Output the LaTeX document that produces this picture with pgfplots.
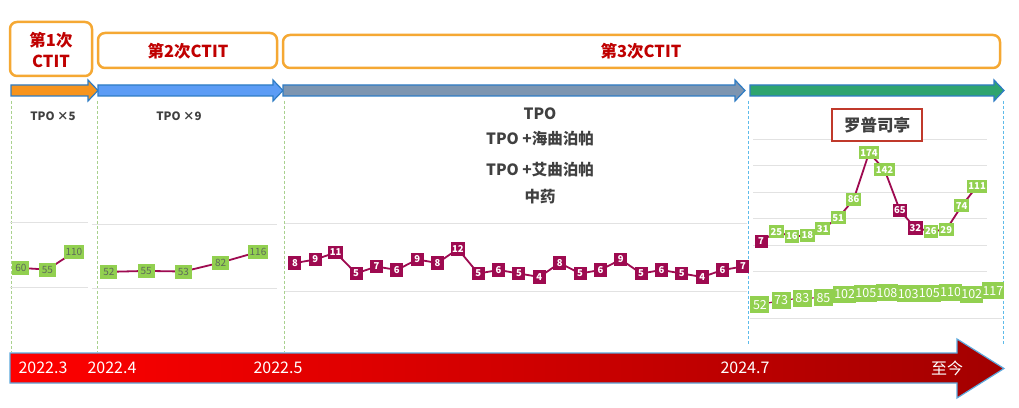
\documentclass[border=0pt]{standalone}
\usepackage{pgfplots}
\pgfplotsset{compat=1.18}
\usepackage{fontspec}
\setmainfont{Noto Sans CJK SC}
\definecolor{mag}{HTML}{9E0A50}
\definecolor{grn}{HTML}{92D050}
\definecolor{org}{HTML}{F5A833}
\definecolor{dred}{HTML}{C00000}
\definecolor{txt}{HTML}{404040}
\definecolor{grd}{HTML}{E2E2E2}
\definecolor{arrb}{HTML}{2E7CC4}
\definecolor{lblg}{HTML}{5E6A5A}
\definecolor{gdash}{HTML}{A9D18E}
\definecolor{bdash}{HTML}{5DBBEA}
\definecolor{aorg}{HTML}{F7941D}
\definecolor{ablu}{HTML}{5C9CF5}
\definecolor{aslt}{HTML}{7D95B0}
\definecolor{agrn}{HTML}{2EA46F}
\definecolor{brA}{HTML}{FF0000}
\definecolor{brB}{HTML}{A30000}
\definecolor{arrl}{HTML}{5DA9DD}
\definecolor{boxr}{HTML}{C0392B}
\pgfplotsset{
  panel/.style={scale only axis, anchor=south west, clip=false,
    axis line style={draw=none}, tick style={draw=none},
    xtick=\empty, yticklabels={}, y tick label style={overlay, opacity=0}, ymajorgrids,
    major grid style={grd, line width=0.8pt},
    /pgf/number format/assume math mode=true},
  gsmall/.style={nodes near coords, nodes near coords align=center,
    every node near coord/.append style={fill=grn, text=lblg,
    font=\fontsize{10}{10}\selectfont, inner sep=1.5pt,
    minimum width=17pt, minimum height=14pt, anchor=center}},
  mnode/.style={nodes near coords, nodes near coords align=center,
    every node near coord/.append style={fill=mag, text=white,
    font=\fontsize{9.5}{10}\selectfont\bfseries, inner sep=1.5pt,
    minimum width=13pt, minimum height=13.5pt, anchor=center}},
  gnode/.style={nodes near coords, nodes near coords align=center,
    every node near coord/.append style={fill=grn, text=white,
    font=\fontsize{9.5}{10}\selectfont\bfseries, inner sep=1.5pt,
    minimum width=13pt, minimum height=13pt, anchor=center}},
  gbig/.style={nodes near coords, nodes near coords align=center,
    every node near coord/.append style={fill=grn, text=white,
    font=\fontsize{12.5}{13}\selectfont, inner sep=1pt,
    minimum width=19pt, minimum height=17pt, anchor=center}},
}
\newcommand{\toparrow}[3]{\filldraw[fill=#3, draw=arrb, line width=1.2pt, line join=miter]
  (#1,311) -- (#2-10,311) -- (#2-10,306) -- (#2,316.5) -- (#2-10,327) -- (#2-10,322) -- (#1,322) -- cycle;}
\begin{document}
\begin{tikzpicture}[x=1pt,y=1pt]
\useasboundingbox (0,0) rectangle (1019,407);
\fill[white] (0,0) rectangle (1019,407);
% top boxes
\draw[org, line width=2.5pt, rounded corners=7pt, fill=white] (10,331) rectangle (92,385);
\node[font=\fontsize{16.5}{21}\selectfont\bfseries, text=dred, align=center] at (51,357) {第1次\\CTIT};
\draw[org, line width=2.5pt, rounded corners=7pt, fill=white] (98,339) rectangle (277,374);
\node[font=\fontsize{16.5}{21}\selectfont\bfseries, text=dred] at (188,356) {第2次CTIT};
\draw[org, line width=2.5pt, rounded corners=7pt, fill=white] (283,339) rectangle (1000,372);
\node[font=\fontsize{16.5}{21}\selectfont\bfseries, text=dred] at (641,355.5) {第3次CTIT};
% top arrows
\toparrow{11}{98}{aorg}
\toparrow{98}{283}{ablu}
\toparrow{283}{745}{aslt}
\toparrow{750}{1004}{agrn}
% dashed separators
\foreach \xx in {11,97,284} {\draw[gdash, line width=0.9pt, dash pattern=on 3pt off 2pt] (\xx,306) -- (\xx,55);}
\foreach \xx in {748,1003} {\draw[bdash, line width=0.9pt, dash pattern=on 3pt off 2pt] (\xx,306) -- (\xx,62);}
% texts
\node[font=\fontsize{11.5}{13}\selectfont\bfseries, text=txt] at (53,291) {TPO ×5};
\node[font=\fontsize{11.5}{13}\selectfont\bfseries, text=txt] at (179,291) {TPO ×9};
\node[font=\fontsize{15.5}{18}\selectfont\bfseries, text=txt] at (540,293) {TPO};
\node[font=\fontsize{15.5}{18}\selectfont\bfseries, text=txt] at (540,268) {TPO +海曲泊帕};
\node[font=\fontsize{15.5}{18}\selectfont\bfseries, text=txt] at (540,237) {TPO +艾曲泊帕};
\node[font=\fontsize{15.5}{18}\selectfont\bfseries, text=txt] at (540,210) {中药};
% panels
\begin{axis}[panel, at={(10pt,120pt)}, width=78pt, height=65pt, xmin=0.585, xmax=3.53, ymin=0, ymax=205, ytick={0,205}]
\addplot[mag, line width=1.8pt, gsmall] coordinates {(1,60)(2,55)(3,110)};
\end{axis}
\begin{axis}[panel, at={(92pt,119pt)}, width=185pt, height=64pt, xmin=0.544, xmax=5.51, ymin=0, ymax=206, ytick={0,206}]
\addplot[mag, line width=1.8pt, gsmall] coordinates {(1,52)(2,55)(3,53)(4,82)(5,116)};
\end{axis}
\begin{axis}[panel, at={(285pt,116pt)}, width=462pt, height=68pt, xmin=0.51, xmax=23.2, ymin=0, ymax=19.43, ytick={0,19.43}]
\addplot[mag, line width=1.8pt, mnode] coordinates {(1,8)(2,9)(3,11)(4,5)(5,7)(6,6)(7,9)(8,8)(9,12)(10,5)(11,6)(12,5)(13,4)(14,8)(15,5)(16,6)(17,9)(18,5)(19,6)(20,5)(21,4)(22,6)(23,7)};
\end{axis}
\begin{axis}[panel, at={(753pt,135.5pt)}, width=234pt, height=132.5pt, xmin=0.48, xmax=15.64, ymin=-50, ymax=200, ytick={-50,0,50,100,150,200}]
\addplot[mag, line width=1.8pt] coordinates {(1,7)(2,25)(3,16)(4,18)(5,31)(6,51)(7,86)(8,174)(9,142)(10,65)(11,32)(12,26)(13,29)(14,74)(15,111)};
\addplot[draw=none, gnode] coordinates {(2,25)(3,16)(4,18)(5,31)(6,51)(7,86)(8,174)(9,142)(12,26)(13,29)(14,74)(15,111)};
\addplot[draw=none, mnode] coordinates {(1,7)(10,65)(11,32)};
\end{axis}
\begin{axis}[panel, at={(750pt,88.85pt)}, width=252pt, height=28pt, xmin=0.53, xmax=12.43, ymin=-10, ymax=120, ytick={-10}]
\addplot[mag, line width=1.2pt] coordinates {(1,52)(2,73)(3,83)(4,85)(5,102)(6,105)(7,108)(8,103)(9,105)(10,110)(11,102)(12,117)};
\addplot[draw=none, gbig] coordinates {(1,52)(2,73)(3,83)(4,85)(5,102)(6,105)(7,108)(8,103)(9,105)(10,110)(11,102)(12,117)};
\end{axis}
% drug box
\draw[boxr, line width=1.8pt, fill=white] (832,266) rectangle (922,298);
\node[font=\fontsize{16.5}{18}\selectfont\bfseries, text=txt] at (877,282) {罗普司亭};
% bottom arrow
\shadedraw[left color=brA, right color=brB, draw=arrl, line width=1.2pt, line join=miter]
  (10,24) -- (957,24) -- (957,9) -- (1004,38.5) -- (957,68) -- (957,54) -- (10,54) -- cycle;
\foreach \xx/\tt in {43/2022.3, 112/2022.4, 278/2022.5, 745/2024.7, 947/至今}
  {\node[font=\fontsize{16}{18}\selectfont, text=white] at (\xx,39) {\tt};}
\end{tikzpicture}
\end{document}
